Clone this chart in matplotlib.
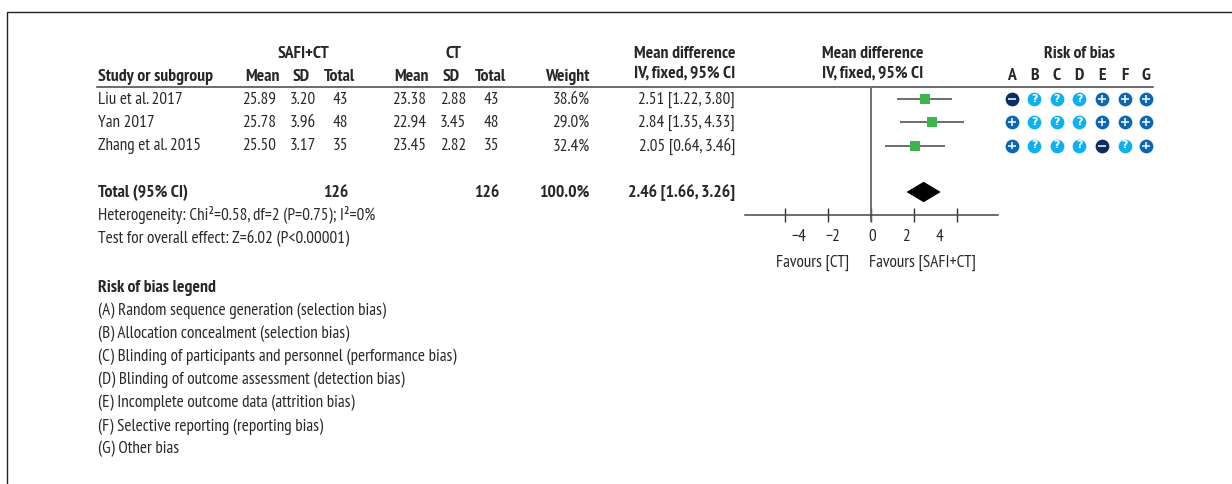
import matplotlib
matplotlib.use("Agg")
import matplotlib.pyplot as plt
from matplotlib.patches import Polygon

FONT = ["PT Sans Narrow", "Roboto Condensed", "DejaVu Sans"]
plt.rcParams["font.family"] = FONT
W, H = 1232, 484
FS = 12.3
FS_BOLD = 12.7
INK = "#2a2627"

# ---- data ----
studies = ["Liu et al. 2017", "Yan 2017", "Zhang et al. 2015"]
exp_mean = ["25.89", "25.78", "25.50"]
exp_sd = ["3.20", "3.96", "3.17"]
exp_n = [43, 48, 35]
ctl_mean = ["23.38", "22.94", "23.45"]
ctl_sd = ["2.88", "3.45", "2.82"]
ctl_n = [43, 48, 35]
weights = [38.6, 29.0, 32.4]
md = [2.51, 2.84, 2.05]
ci_low = [1.22, 1.35, 0.64]
ci_high = [3.80, 4.33, 3.46]
total_md, total_low, total_high = 2.46, 1.66, 3.26
total_exp, total_ctl = 126, 126
ticks = [-4, -2, 0, 2, 4]
tick_labels = ["−4", "−2", "0", "2", "4"]
bias_cols = ["A", "B", "C", "D", "E", "F", "G"]
bias_rows = [
    ["-", "?", "?", "?", "+", "+", "+"],
    ["+", "?", "?", "?", "+", "+", "+"],
    ["+", "?", "?", "?", "-", "?", "+"],
]
legend_title = "Risk of bias legend"
legend_items = [
    "(A) Random sequence generation (selection bias)",
    "(B) Allocation concealment (selection bias)",
    "(C) Blinding of participants and personnel (performance bias)",
    "(D) Blinding of outcome assessment (detection bias)",
    "(E) Incomplete outcome data (attrition bias)",
    "(F) Selective reporting (reporting bias)",
    "(G) Other bias",
]
notes = ["Heterogeneity: Chi²=0.58, df=2 (P=0.75); I²=0%",
         "Test for overall effect: Z=6.02 (P<0.00001)"]

fig = plt.figure(figsize=(W / 100, H / 100), dpi=100, facecolor="white")

# pixel-space layer for table text
pg = fig.add_axes([0, 0, 1, 1])
pg.set_xlim(0, W)
pg.set_ylim(H, 0)
pg.axis("off")


def t(x, y, s, ha="left", bold=False, color=INK):
    pg.text(x, y + 0.8, s, ha=ha, va="center", fontsize=FS_BOLD if bold else FS, color=color,
            fontweight="bold" if bold else "normal")


# frame and header rule
pg.plot([6.5, 6.5, W], [H, 11.5, 11.5], color="#222222", lw=1.0, solid_joinstyle="miter")
pg.plot([97, 1153], [87, 87], color="#444444", lw=1.1)

row_y = [99, 122.25, 145.5]
total_y = 192

# headers
t(303, 53, "SAFI+CT", "center", True)
t(453, 53, "CT", "center", True)
t(684.5, 53, "Mean difference", "center", True)
t(684.5, 73, "IV, fixed, 95% CI", "center", True)
t(873, 53, "Mean difference", "center", True)
t(873, 73, "IV, fixed, 95% CI", "center", True)
t(1079, 53, "Risk of bias", "center", True)
y0 = 76
t(98, y0, "Study or subgroup", bold=True)
for x, s in [(279.5, "Mean"), (310, "SD"), (355, "Total"), (429, "Mean"), (460, "SD"),
             (506, "Total"), (589, "Weight")]:
    t(x, y0, s, "right", True)

# rows
for i, y in enumerate(row_y):
    t(98, y, studies[i])
    t(276.5, y, exp_mean[i], "right")
    t(316, y, exp_sd[i], "right")
    t(348, y, str(exp_n[i]), "right")
    t(426, y, ctl_mean[i], "right")
    t(466, y, ctl_sd[i], "right")
    t(499, y, str(ctl_n[i]), "right")
    t(589.5, y, f"{weights[i]:.1f}%", "right")
    t(735, y, f"{md[i]:.2f} [{ci_low[i]:.2f}, {ci_high[i]:.2f}]", "right")

t(98, total_y, "Total (95% CI)", bold=True)
t(348, total_y, str(total_exp), "right", True)
t(499, total_y, str(total_ctl), "right", True)
t(589.5, total_y, f"{sum(weights):.1f}%", "right", True)
t(735, total_y, f"{total_md:.2f} [{total_low:.2f}, {total_high:.2f}]", "right", True)
t(98, 214.5, notes[0])
t(98, 238, notes[1])

# legend
t(98, 287, legend_title, bold=True)
for i, s in enumerate(legend_items):
    t(98, 310 + i * 23.1, s)

# forest plot
fx0, fx1, fy0, fy1 = 745, 998, 87, 222
ax = fig.add_axes([fx0 / W, 1 - fy1 / H, (fx1 - fx0) / W, (fy1 - fy0) / H])
ax.patch.set_alpha(0)
px_per_unit = 21.4
ax.set_xlim((fx0 - 871) / px_per_unit, (fx1 - 871) / px_per_unit)
px_per_row = 23.25
ax.set_ylim((fy1 - 99) / px_per_row, (fy0 - 99) / px_per_row)
for k in ("top", "left", "right"):
    ax.spines[k].set_visible(False)
ax.spines["bottom"].set_position(("data", 5.0))
ax.spines["bottom"].set_color("#444444")
ax.spines["bottom"].set_linewidth(1.1)
ax.set_yticks([])
ax.set_xticks(ticks)
ax.set_xticklabels([])
ax.tick_params(axis="x", direction="inout", length=10, width=1.0, color="#333333")
ax.axvline(0, color="#666666", lw=1.3)
for i in range(3):
    ax.plot([ci_low[i], ci_high[i]], [i, i], color="#555555", lw=1.2, solid_capstyle="butt")
    ax.plot(md[i], i, "s", color="#3cb54a", ms=5.4 + 0.06 * weights[i], mew=0)
ax.add_patch(Polygon([(total_low, 4), (total_md, 3.56), (total_high, 4), (total_md, 4.44)],
                     closed=True, color="black", lw=0))

# tick labels and favour labels, as placed in the reference
for x, s in zip([799, 833, 872, 906, 940], tick_labels):
    t(x, 236.5, s, "center")
t(813, 262, "Favours [CT]", "center")
t(922, 262, "Favours [SAFI+CT]", "center")

# risk of bias
col_x = [1011.7, 1034.3, 1056.7, 1079.3, 1102, 1124.7, 1145.7]
colors = {"+": "#0b67b2", "?": "#0fb0ee", "-": "#0c2c63"}
for x, c in zip(col_x, bias_cols):
    t(x, 75.5, c, "center", True)
for y, row in zip(row_y, bias_rows):
    for x, v in zip(col_x, row):
        pg.scatter([x], [y], s=98, color=colors[v], lw=0, zorder=3)
        if v == "?":
            pg.text(x, y, "?", ha="center", va="center", color="white", fontsize=8,
                    family="DejaVu Sans", fontweight="bold", zorder=4)
        else:
            pg.plot([x - 3.8, x + 3.8], [y, y], color="white", lw=1.1, zorder=4, solid_capstyle="butt")
            if v == "+":
                pg.plot([x, x], [y - 3.8, y + 3.8], color="white", lw=1.1, zorder=4, solid_capstyle="butt")

fig.savefig("out.png", dpi=100, facecolor="white")
